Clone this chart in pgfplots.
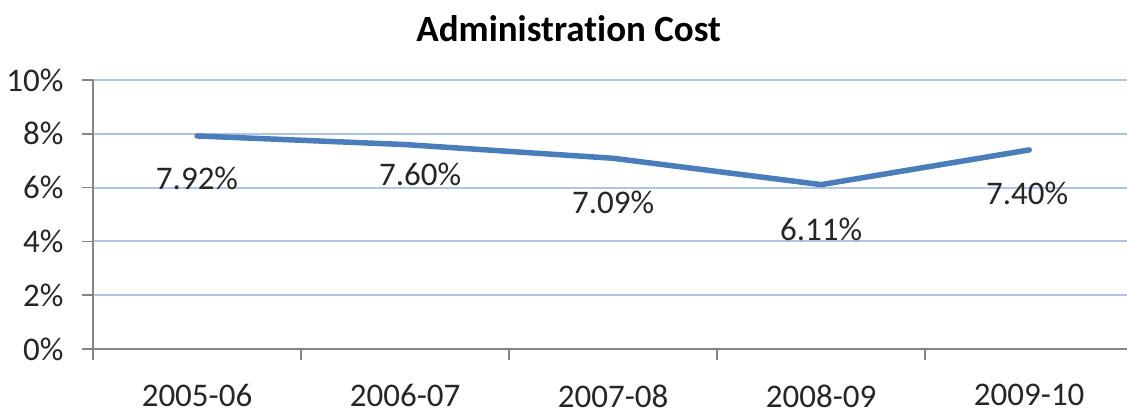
\documentclass[border=0pt]{standalone}
\usepackage{pgfplots}
\pgfplotsset{compat=1.18}
\usepackage{fontspec}
\setmainfont{Carlito}[Ligatures={NoCommon,NoRequired,NoContextual}]
\definecolor{linec}{RGB}{74,126,187}
\definecolor{gridc}{RGB}{176,196,228}
\definecolor{axisc}{RGB}{134,134,134}
\begin{document}
\begin{tikzpicture}
\begin{axis}[
  at={(0pt,0pt)}, anchor=south west,
  scale only axis, width=1034pt, height=269pt,
  xmin=-0.5, xmax=4.47, ymin=0, ymax=10,
  axis lines=left,
  axis line style={-, draw=axisc, line width=1.5pt},
  clip=false,
  xtick={-0.5,0.5,1.5,2.5,3.5},
  xticklabels={2005-06,2006-07,2007-08,2008-09,2009-10},
  xticklabel style={xshift=104pt, anchor=north, yshift=-21pt},
  ytick={0,2,4,6,8,10},
  yticklabels={0\%,2\%,4\%,6\%,8\%,10\%},
  yticklabel style={anchor=east, xshift=-15pt},
  tick align=outside,
  major tick length=11pt,
  tick style={draw=axisc, line width=1.5pt},
  ymajorgrids,
  grid style={draw=gridc, line width=2pt},
  ticklabel style={font=\fontsize{33}{40}\selectfont, text=black!85},
  title={Administration Cost},
  title style={font=\bfseries\fontsize{37}{44}\selectfont, at={(axis description cs:0.46,1)}, anchor=base, yshift=32pt},
]
\addplot[linec, line width=5.5pt, line join=round, line cap=round, no markers,
  point meta=y,
  visualization depends on={\thisrow{dx}\as\labdx},
  visualization depends on={\thisrow{dy}\as\labdy},
  nodes near coords={\pgfmathprintnumber[fixed,fixed zerofill,precision=2,assume math mode=true]{\pgfplotspointmeta}\%},
  every node near coord/.append style={anchor=center, xshift=\labdx pt, yshift=\labdy pt, font=\fontsize{33}{40}\selectfont, text=black!85},
] table[x=x, y=y] {
x y dx dy
0 7.92 0 -42
1 7.60 15 -30
2 7.09 0 -44
3 6.11 0 -45
4 7.40 -2 -43
};
\end{axis}
\pgfresetboundingbox
\useasboundingbox (-93pt,-65pt) rectangle (1034pt,349pt);
\end{tikzpicture}
\end{document}
